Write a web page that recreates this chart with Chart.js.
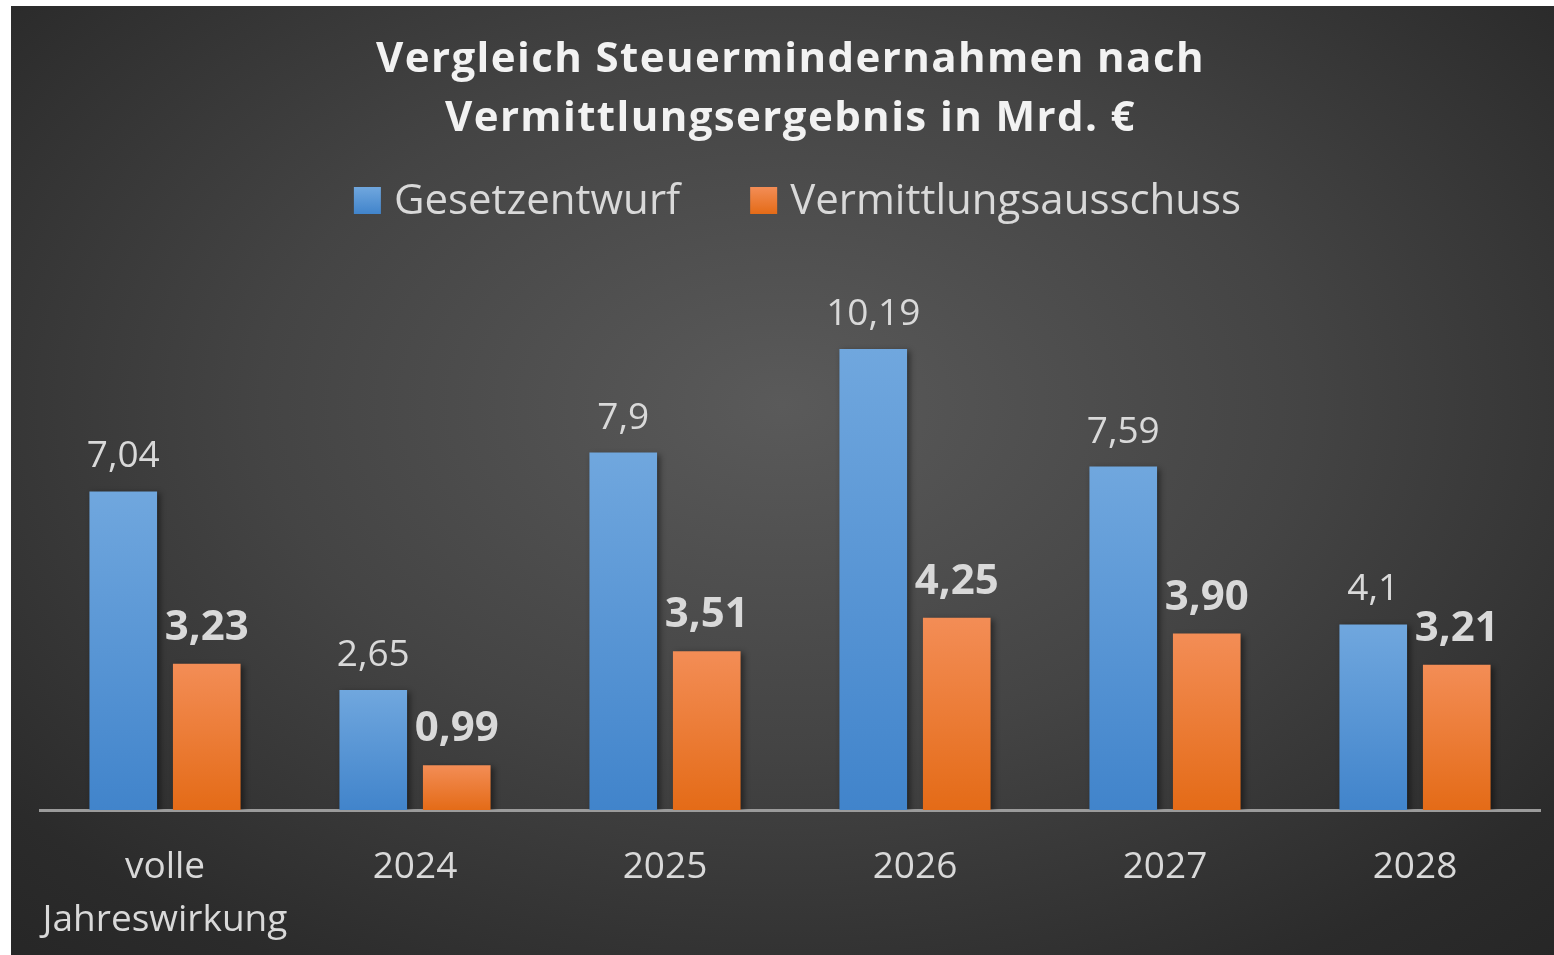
<!DOCTYPE html>
<html>
<head>
<meta charset="utf-8">
<script src="https://cdn.jsdelivr.net/npm/chart.js@4.4.1/dist/chart.umd.min.js"></script>
<style>
  html, body { margin: 0; padding: 0; background: #fff; }
  #wrap {
    position: absolute; left: 11px; top: 6px; width: 1543px; height: 949px;
    background: radial-gradient(ellipse 75% 80% at 50% 42%, #5a5a5a 0%, #444 45%, #2b2b2b 85%, #262626 100%);
  }
</style>
</head>
<body>
<div id="wrap"><canvas id="chart" width="1543" height="949"></canvas></div>
<script>
// Chart data
const categories = [['volle', 'Jahreswirkung'], '2024', '2025', '2026', '2027', '2028'];
const gesetzentwurf = [7.04, 2.65, 7.9, 10.19, 7.59, 4.1];
const vermittlungsausschuss = [3.23, 0.99, 3.51, 4.25, 3.90, 3.21];
const seriesNames = ['Gesetzentwurf', 'Vermittlungsausschuss'];
const titleLines = ['Vergleich Steuermindernahmen nach', 'Vermittlungsergebnis in Mrd. €'];

const blueTop = '#70a7de', blueBottom = '#4184cb';
const orangeTop = '#f38d56', orangeBottom = '#e46b17';
const textColor = '#d9d9d9';

// vertical gradient per bar, from the value's pixel down to zero
function barGradient(top, bottom) {
    return (context) => {
        const chart = context.chart;
        const y = chart.scales.y;
        if (!chart.chartArea || !y || !context.parsed) return bottom;
        const y0 = y.getPixelForValue(context.parsed.y);
        const y1 = y.getPixelForValue(0);
        if (!isFinite(y0) || !isFinite(y1)) return bottom;
        const g = chart.ctx.createLinearGradient(0, y0, 0, y1);
        g.addColorStop(0, top);
        g.addColorStop(1, bottom);
        return g;
    };
}

function formatValue(v, datasetIndex) {
    if (datasetIndex === 1) return v.toFixed(2).replace('.', ',');
    return String(v).replace('.', ',');
}

// Title, legend, bar shadows and value labels
const decorations = {
    id: 'decorations',
    beforeDatasetsDraw(chart) {
        const ctx = chart.ctx;
        ctx.save();
        ctx.shadowColor = 'rgba(0,0,0,0.45)';
        ctx.shadowBlur = 6;
        ctx.shadowOffsetX = 3;
        ctx.shadowOffsetY = 2;
    },
    afterDatasetsDraw(chart) {
        const ctx = chart.ctx;
        ctx.restore();
        ctx.save();
        ctx.textAlign = 'center';
        ctx.textBaseline = 'alphabetic';
        ctx.fillStyle = textColor;
        chart.data.datasets.forEach((ds, di) => {
            const meta = chart.getDatasetMeta(di);
            ctx.font = di === 1 ? 'bold 42px "Open Sans"' : '37px "Open Sans"';
            meta.data.forEach((bar, i) => {
                ctx.fillText(formatValue(ds.data[i], di), bar.x, bar.y - 24);
            });
        });
        ctx.restore();
    },
    afterDraw(chart) {
        const ctx = chart.ctx;
        const cx = chart.width / 2 + 8;
        ctx.save();
        // Title
        ctx.font = 'bold 42px "Open Sans"';
        ctx.letterSpacing = '1.4px';
        ctx.fillStyle = '#f2f2f2';
        ctx.textAlign = 'center';
        ctx.textBaseline = 'alphabetic';
        ctx.fillText(titleLines[0], cx, 66);
        ctx.fillText(titleLines[1], cx, 125);
        // Legend
        ctx.letterSpacing = '0px';
        ctx.font = '42px "Open Sans"';
        ctx.textAlign = 'left';
        const box = 27, gap = 13, between = 70;
        const widths = seriesNames.map(n => ctx.measureText(n).width);
        const total = widths.reduce((a, w) => a + box + gap + w, 0) + between;
        let x = cx + 7 - total / 2;
        const colors = [[blueTop, blueBottom], [orangeTop, orangeBottom]];
        seriesNames.forEach((name, i) => {
            const g = ctx.createLinearGradient(0, 181, 0, 181 + box);
            g.addColorStop(0, colors[i][0]);
            g.addColorStop(1, colors[i][1]);
            ctx.fillStyle = g;
            ctx.fillRect(x, 181, box, box);
            ctx.fillStyle = textColor;
            ctx.fillText(name, x + box + gap, 208);
            x += box + gap + widths[i] + between;
        });
        ctx.restore();
    }
};

new Chart(document.getElementById('chart'), {
    type: 'bar',
    data: {
        labels: categories,
        datasets: [
            {
                label: seriesNames[0],
                data: gesetzentwurf,
                backgroundColor: barGradient(blueTop, blueBottom),
                categoryPercentage: 0.668,
                barPercentage: 0.81
            },
            {
                label: seriesNames[1],
                data: vermittlungsausschuss,
                backgroundColor: barGradient(orangeTop, orangeBottom),
                categoryPercentage: 0.668,
                barPercentage: 0.81
            }
        ]
    },
    options: {
        responsive: false,
        animation: false,
        devicePixelRatio: 1,
        layout: {
            padding: { top: 261, left: 29, right: 14, bottom: 0 }
        },
        plugins: {
            legend: { display: false },
            title: { display: false },
            tooltip: { enabled: false }
        },
        scales: {
            x: {
                grid: { display: false },
                border: { display: true, color: '#9b9b9b', width: 3 },
                ticks: {
                    color: textColor,
                    padding: 23,
                    maxRotation: 0,
                    autoSkip: false,
                    font: { family: 'Open Sans', size: 37, lineHeight: 1.43 }
                },
                afterFit(scale) {
                    scale.height = 145;
                }
            },
            y: {
                display: false,
                min: 0,
                max: 12
            }
        }
    },
    plugins: [decorations]
});
</script>
</body>
</html>
